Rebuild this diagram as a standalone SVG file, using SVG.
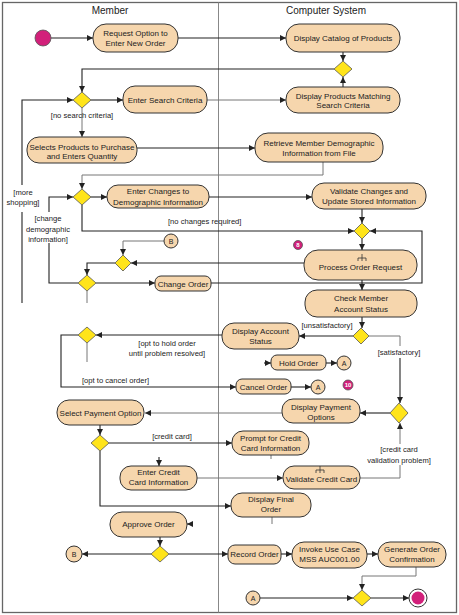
<svg xmlns="http://www.w3.org/2000/svg" width="459" height="615" viewBox="0 0 459 615">
<defs>
<style>
.n{fill:#f6d6ad;stroke:#333;stroke-width:1}
.d{fill:#ffe41a;stroke:#555;stroke-width:0.8}
.t{font-family:"Liberation Sans",Arial,sans-serif;font-size:8px;fill:#222;text-anchor:middle}
.l{font-family:"Liberation Sans",Arial,sans-serif;font-size:7.6px;fill:#222;text-anchor:middle}
.h{font-family:"Liberation Sans",Arial,sans-serif;font-size:10px;fill:#222;text-anchor:middle}
.k{fill:none;stroke:#222;stroke-width:1.1}
.g{fill:none;stroke:#777;stroke-width:1}
.a{marker-end:url(#ah)}
.m{fill:#d2207a;stroke:#555;stroke-width:0.8}
.mt{font-family:"Liberation Sans",Arial,sans-serif;font-size:6px;fill:#fff;text-anchor:middle;font-weight:bold}
.rk{fill:none;stroke:#333;stroke-width:0.8}
</style>
<marker id="ah" viewBox="0 0 10 10" refX="10" refY="5" markerWidth="6" markerHeight="6" orient="auto" markerUnits="userSpaceOnUse">
<path d="M0,0 L10,5 L0,10 z" fill="#222"/>
</marker>
</defs>
<rect x="0" y="0" width="459" height="615" fill="#fff"/>
<rect x="2.5" y="2.5" width="454" height="610" fill="none" stroke="#666" stroke-width="1.3"/>
<line x1="218.5" y1="2.5" x2="218.5" y2="612.5" stroke="#888" stroke-width="1"/>
<text class="h" x="110" y="14">Member</text>
<text class="h" x="326" y="14">Computer System</text>

<g id="connectors">
<path class="k a" d="M51,38 H93"/>
<path class="k a" d="M178,38 H286"/>
<path class="k a" d="M343,52 V61"/>
<path class="k a" d="M343,87 V77"/>
<path class="k a" d="M334,69 H82 V92"/>
<path class="k a" d="M91,100 H123"/>
<path class="g a" d="M207,100 H286"/>
<path class="g a" d="M82,108 V137"/>
<path class="k a" d="M137,148 H255"/>
<path class="g a" d="M323,162 V175 H82 V189"/>
<path class="k a" d="M91,197 H107"/>
<path class="k a" d="M209,197 H312"/>
<path class="k a" d="M362,209 V223"/>
<path class="k a" d="M82,205 V231 H354"/>
<path class="k a" d="M362,239 V250"/>
<path class="k a" d="M304,263 H131"/>
<path class="g a" d="M164,241 H123 V255"/>
<path class="k a" d="M115,263 H87 V275"/>
<path class="k a" d="M96,283 H155"/>
<path class="k" d="M78,283 H49 V243"/>
<path class="k a" d="M49,212 V197 H73"/>
<path class="g" d="M87,291 V303"/>
<path class="k" d="M22,303 V212"/>
<path class="k a" d="M22,185 V100 H73"/>
<path class="k a" d="M211,283 H422 V231 H370"/>
<path class="k a" d="M362,280 V290"/>
<path class="k a" d="M362,317 V328"/>
<path class="k a" d="M353,336 H299"/>
<path class="k a" d="M222,335 H96"/>
<path class="g" d="M87,343 V362"/>
<path class="k a" d="M78,335 H61 V387 H236"/>
<path class="k a" d="M264,363 H271"/>
<path class="k a" d="M326,363 H337"/>
<path class="k a" d="M291,387 H311"/>
<path class="g" d="M369,336 H400 V346"/>
<path class="k a" d="M400,358 V403"/>
<path class="k a" d="M390,413 H360"/>
<path class="g a" d="M282,413 H145"/>
<path class="k a" d="M100,425 V435"/>
<path class="k a" d="M109,443 H232"/>
<path class="g" d="M271,455 V459"/>
<path class="k a" d="M159,457 V466"/>
<path class="g a" d="M197,478 H283"/>
<path class="g" d="M360,478 H400 V465"/>
<path class="g a" d="M400,444 V423"/>
<path class="k a" d="M100,451 V506 H231"/>
<path class="g" d="M272,517 V524"/>
<path class="k a" d="M193,524 H187"/>
<path class="k a" d="M160,537 V546"/>
<path class="k a" d="M151,554 H82"/>
<path class="k a" d="M169,554 H228"/>
<path class="k a" d="M281,554 H292"/>
<path class="k a" d="M367,554 H378"/>
<path class="g a" d="M416,567 V576 H362 V590"/>
<path class="k a" d="M260,598 H353"/>
<path class="k a" d="M371,598 H409"/>
</g>

<g id="labels">
<text class="l" x="82" y="118">[no search criteria]</text>
<text class="l" x="23" y="195">[more</text>
<text class="l" x="23" y="205">shopping]</text>
<text class="l" x="48" y="221">[change</text>
<text class="l" x="48" y="232">demographic</text>
<text class="l" x="48" y="242">information]</text>
<text class="l" x="168" y="224" style="text-anchor:start">[no changes required]</text>
<text class="l" x="327" y="328">[unsatisfactory]</text>
<text class="l" x="399" y="355">[satisfactory]</text>
<text class="l" x="167" y="346">[opt to hold order</text>
<text class="l" x="167" y="356">until problem resolved]</text>
<text class="l" x="82" y="383" style="text-anchor:start">[opt to cancel order]</text>
<text class="l" x="172" y="439">[credit card]</text>
<text class="l" x="399" y="452">[credit card</text>
<text class="l" x="399" y="463">validation problem]</text>
</g>

<g id="start"><circle class="m" cx="43" cy="38" r="8"/></g>
<g id="n_request"><rect class="n" x="93" y="24" width="85" height="28" rx="13"/><text class="t" x="135.5" y="36">Request Option to</text><text class="t" x="135.5" y="46">Enter New Order</text></g>
<g id="n_catalog"><rect class="n" x="286" y="24" width="114" height="28" rx="13"/><text class="t" x="343" y="41">Display Catalog of Products</text></g>
<g id="dm1"><polygon class="d" points="343,61 352,69 343,77 334,69"/></g>
<g id="dm2"><polygon class="d" points="82,92 91,100 82,108 73,100"/></g>
<g id="n_search"><rect class="n" x="123" y="86" width="84" height="27" rx="12"/><text class="t" x="165" y="102.5">Enter Search Criteria</text></g>
<g id="n_match"><rect class="n" x="286" y="87" width="114" height="26" rx="12"/><text class="t" x="343" y="98.5">Display Products Matching</text><text class="t" x="343" y="108">Search Criteria</text></g>
<g id="n_select"><rect class="n" x="27" y="137" width="110" height="26" rx="12"/><text class="t" x="82" y="149.5">Selects Products to Purchase</text><text class="t" x="82" y="159">and Enters Quantity</text></g>
<g id="n_retrieve"><rect class="n" x="255" y="133" width="128" height="29" rx="13"/><text class="t" x="319" y="146">Retrieve Member Demographic</text><text class="t" x="319" y="155.5">Information from File</text></g>
<g id="dm3"><polygon class="d" points="82,189 91,197 82,205 73,197"/></g>
<g id="n_changes"><rect class="n" x="107" y="185" width="102" height="23" rx="11"/><text class="t" x="158" y="194">Enter Changes to</text><text class="t" x="158" y="204.5">Demographic Information</text></g>
<g id="n_validate"><rect class="n" x="312" y="183" width="114" height="26" rx="12"/><text class="t" x="369" y="194">Validate Changes and</text><text class="t" x="369" y="204">Update Stored Information</text></g>
<g id="dm4"><polygon class="d" points="362,223 370,231 362,239 354,231"/></g>
<g id="c_b1"><circle class="n" cx="171" cy="241" r="7"/><text class="t" x="171" y="244" style="font-size:7px">B</text></g>
<g id="m8"><circle class="m" cx="298" cy="245" r="4.5"/><text class="mt" x="298" y="247.2">8</text></g>
<g id="dm5"><polygon class="d" points="123,255 131,263 123,271 115,263"/></g>
<g id="n_process"><rect class="n" x="304" y="250" width="113" height="30" rx="14"/><path class="rk" d="M362,254 V258 M358,261 V258 H366 V261 M362,258 V261"/><text class="t" x="360.5" y="270">Process Order Request</text></g>
<g id="dm6"><polygon class="d" points="87,275 96,283 87,291 78,283"/></g>
<g id="n_change"><rect class="n" x="155" y="276" width="56" height="15" rx="6"/><text class="t" x="183" y="286.5">Change Order</text></g>
<g id="n_check"><rect class="n" x="305" y="290" width="112" height="27" rx="12"/><text class="t" x="361" y="301">Check Member</text><text class="t" x="361" y="312">Account Status</text></g>
<g id="dm7"><polygon class="d" points="361,328 369,336 361,344 353,336"/></g>
<g id="n_das"><rect class="n" x="222" y="323" width="77" height="26" rx="12"/><text class="t" x="260.5" y="334">Display Account</text><text class="t" x="260.5" y="343.5">Status</text></g>
<g id="dm8"><polygon class="d" points="87,327 96,335 87,343 78,335"/></g>
<g id="n_hold"><rect class="n" x="271" y="355" width="55" height="15" rx="6"/><text class="t" x="298.5" y="365.5">Hold Order</text></g>
<g id="c_a1"><circle class="n" cx="344" cy="363" r="7"/><text class="t" x="344" y="366" style="font-size:7px">A</text></g>
<g id="n_cancel"><rect class="n" x="236" y="379" width="55" height="15" rx="6"/><text class="t" x="263.5" y="389.5">Cancel Order</text></g>
<g id="c_a2"><circle class="n" cx="318" cy="387" r="7"/><text class="t" x="318" y="390" style="font-size:7px">A</text></g>
<g id="m10"><circle class="m" cx="348" cy="385" r="5"/><text class="mt" x="348" y="387.2">10</text></g>
<g id="dm9"><polygon class="d" points="399,403 408,413 399,423 390,413"/></g>
<g id="n_dpo"><rect class="n" x="282" y="399" width="78" height="24" rx="11"/><text class="t" x="321" y="410">Display Payment</text><text class="t" x="321" y="420">Options</text></g>
<g id="n_spo"><rect class="n" x="57" y="400" width="87" height="25" rx="12"/><text class="t" x="100.5" y="415.5">Select Payment Option</text></g>
<g id="dm10"><polygon class="d" points="100,435 109,443 100,451 91,443"/></g>
<g id="n_prompt"><rect class="n" x="232" y="431" width="77" height="24" rx="11"/><text class="t" x="270.5" y="440.5">Prompt for Credit</text><text class="t" x="270.5" y="450.5">Card Information</text></g>
<g id="n_ecci"><rect class="n" x="120" y="466" width="77" height="24" rx="11"/><text class="t" x="158.5" y="475">Enter Credit</text><text class="t" x="158.5" y="485">Card Information</text></g>
<g id="n_vcc"><rect class="n" x="283" y="466" width="77" height="23" rx="11"/><path class="rk" d="M320,466 V470 M316,473 V470 H324 V473 M320,470 V473"/><text class="t" x="321.5" y="482">Validate Credit Card</text></g>
<g id="n_dfo"><rect class="n" x="231" y="493" width="80" height="24" rx="11"/><text class="t" x="271" y="502">Display Final</text><text class="t" x="271" y="512">Order</text></g>
<g id="n_approve"><rect class="n" x="110" y="512" width="77" height="25" rx="12"/><text class="t" x="148.5" y="527">Approve Order</text></g>
<g id="dm11"><polygon class="d" points="160,546 169,554 160,562 151,554"/></g>
<g id="c_b2"><circle class="n" cx="74" cy="554" r="8"/><text class="t" x="74" y="557" style="font-size:7px">B</text></g>
<g id="n_record"><rect class="n" x="228" y="545" width="53" height="19" rx="7"/><text class="t" x="254.5" y="557">Record Order</text></g>
<g id="n_invoke"><rect class="n" x="292" y="542" width="75" height="26" rx="12"/><text class="t" x="329.5" y="552">Invoke Use Case</text><text class="t" x="329.5" y="562">MSS AUC001.00</text></g>
<g id="n_generate"><rect class="n" x="378" y="542" width="68" height="25" rx="12"/><text class="t" x="412" y="552">Generate Order</text><text class="t" x="412" y="562">Confirmation</text></g>
<g id="c_a3"><circle class="n" cx="253" cy="598" r="7"/><text class="t" x="253" y="601" style="font-size:7px">A</text></g>
<g id="dm12"><polygon class="d" points="362,590 371,598 362,606 353,598"/></g>
<g id="end"><circle cx="418" cy="598" r="9" fill="#fff" stroke="#333" stroke-width="1"/><circle cx="418" cy="598" r="6.5" fill="#d2207a"/></g>
</svg>
